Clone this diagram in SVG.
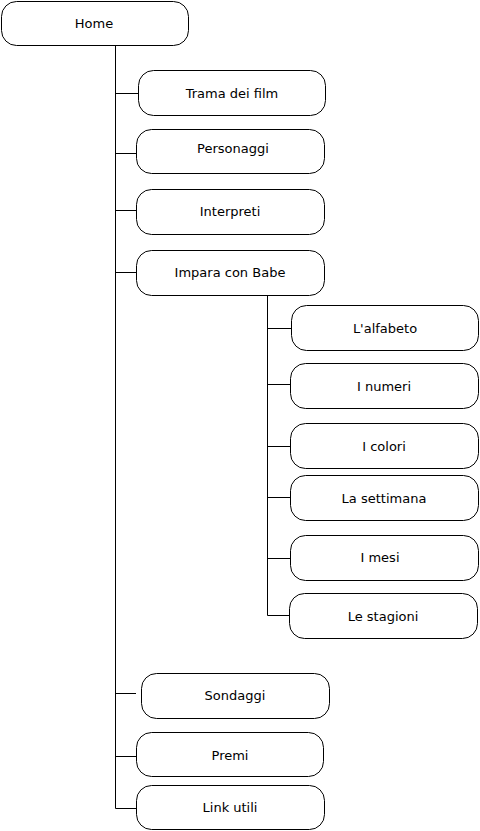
<svg xmlns="http://www.w3.org/2000/svg" width="480" height="831" viewBox="0 0 480 831">
<style>
.box{fill:#fff;stroke:#000;stroke-width:1}
.lbl{font-family:"DejaVu Sans",sans-serif;font-size:13px;fill:#000;text-anchor:middle}
.ln{stroke:#000;stroke-width:1;fill:none}
</style>
<rect width="480" height="831" fill="#fff"/>
<g id="connectors">
<path class="ln" d="M115.5 46V808.5M115.5 93.5H138M115.5 153.5H136M115.5 210.5H136M115.5 272.5H136M115.5 693.5H136M115.5 756.5H136M115.5 808.5H136"/>
<path class="ln" d="M267.5 295V615.5M267.5 328.5H291M267.5 384.5H290M267.5 446.5H290M267.5 497.5H290M267.5 558.5H290M267.5 615.5H289"/>
</g>
<g id="home"><rect class="box" x="1.5" y="1.5" width="187" height="44" rx="15"/><text class="lbl" x="94" y="28">Home</text></g>
<g id="trama"><rect class="box" x="138.5" y="70.5" width="187" height="45" rx="15"/><text class="lbl" x="232" y="98">Trama dei film</text></g>
<g id="personaggi"><rect class="box" x="136.5" y="129.5" width="188" height="44" rx="15"/><text class="lbl" x="233" y="153">Personaggi</text></g>
<g id="interpreti"><rect class="box" x="136.5" y="189.5" width="188" height="45" rx="15"/><text class="lbl" x="230" y="216">Interpreti</text></g>
<g id="impara"><rect class="box" x="136.5" y="250.5" width="188" height="45" rx="15"/><text class="lbl" x="230" y="277">Impara con Babe</text></g>
<g id="alfabeto"><rect class="box" x="291.5" y="305.5" width="187" height="45" rx="15"/><text class="lbl" x="385" y="333">L'alfabeto</text></g>
<g id="numeri"><rect class="box" x="290.5" y="363.5" width="188" height="45" rx="15"/><text class="lbl" x="384" y="391">I numeri</text></g>
<g id="colori"><rect class="box" x="290.5" y="423.5" width="188" height="45" rx="15"/><text class="lbl" x="384" y="451">I colori</text></g>
<g id="settimana"><rect class="box" x="290.5" y="475.5" width="188" height="45" rx="15"/><text class="lbl" x="384" y="503">La settimana</text></g>
<g id="mesi"><rect class="box" x="290.5" y="535.5" width="188" height="45" rx="15"/><text class="lbl" x="380" y="562">I mesi</text></g>
<g id="stagioni"><rect class="box" x="289.5" y="593.5" width="188" height="45" rx="15"/><text class="lbl" x="383" y="621">Le stagioni</text></g>
<g id="sondaggi"><rect class="box" x="141.5" y="673.5" width="188" height="45" rx="15"/><text class="lbl" x="235" y="700">Sondaggi</text></g>
<g id="premi"><rect class="box" x="136.5" y="732.5" width="187" height="44" rx="15"/><text class="lbl" x="230" y="760">Premi</text></g>
<g id="link"><rect class="box" x="136.5" y="785.5" width="188" height="44" rx="15"/><text class="lbl" x="230" y="812">Link utili</text></g>
</svg>
